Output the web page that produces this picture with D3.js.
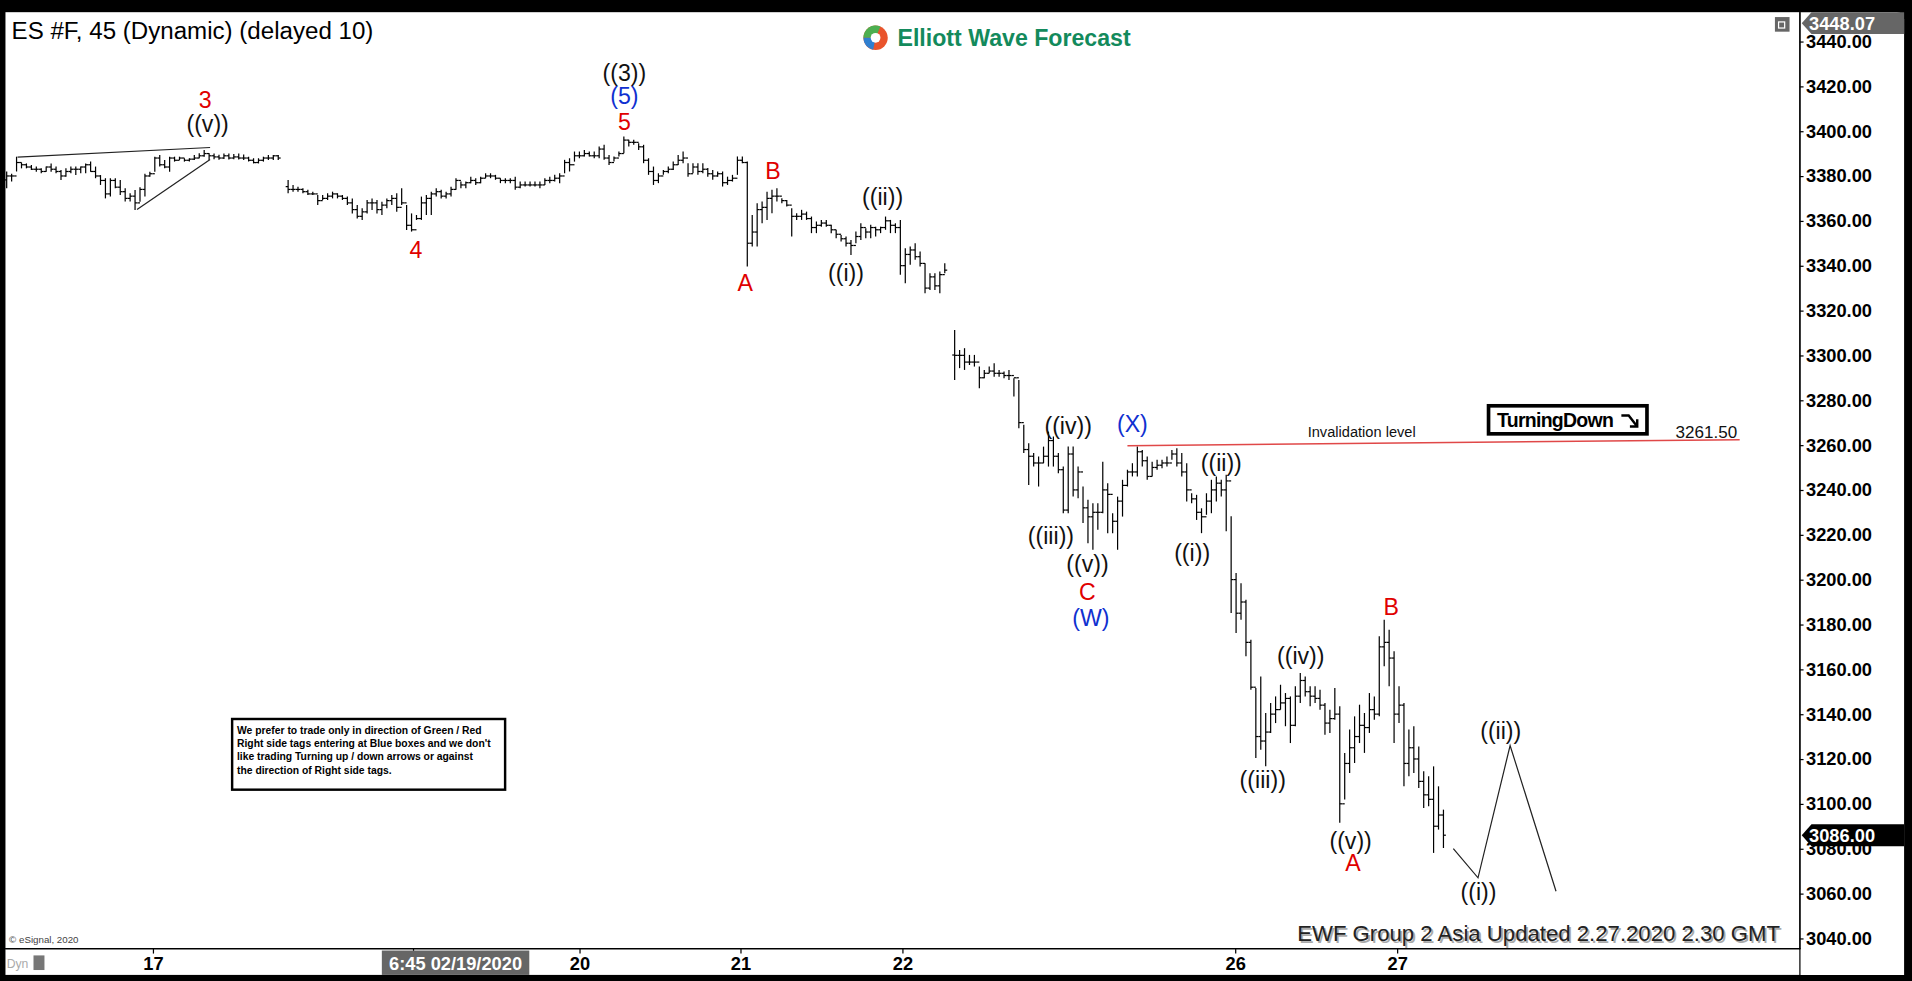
<!DOCTYPE html>
<html><head><meta charset="utf-8">
<script src="https://cdn.jsdelivr.net/npm/d3@7"></script>
<style>html,body{margin:0;padding:0;background:#000;overflow:hidden}text{font-family:"Liberation Sans",Arial,sans-serif}</style>
</head><body>
<svg id="c" width="1912" height="981" viewBox="0 0 1568 805"></svg>
<script>
const highs=[3382,3381,3388.6,3386,3385.6,3384.9,3384.2,3383.4,3384.2,3385.6,3384.2,3382.7,3383.4,3384.2,3384.2,3384.2,3385.6,3386.4,3384.2,3380.4,3379,3379,3379,3378.2,3374.5,3372.3,3373.7,3375,3381,3381.9,3388.6,3389.4,3387.1,3388.6,3388.6,3388.6,3387.9,3387.9,3389.4,3390.1,3391.6,3390.1,3390,3389.5,3390,3390,3389.8,3390,3389.6,3388.6,3387.9,3387.9,3388.6,3389.4,3389.4,3389.4,
null,
3378.2,3376,3375.2,3374.5,3373.8,3373,3371.5,3371.5,3372.3,3373,3372.3,3371.5,3370.8,3370,3367,3365.6,3369.3,3370,3369.3,3368.5,3370,3371.5,3372.3,3374.5,3367,3363.3,3362.6,3370.8,3371.5,3373,3374.5,3373.8,3373,3375.2,3379,3377.5,3377.5,3379.7,
3379,3379.7,3381.2,3381.2,3380.5,3379,3379,3379,3379.7,3377.5,3377.5,3377.5,3377.5,3377.5,3379,3379.7,3380.5,3381.2,3387.2,3387.9,3390.9,3390.9,3391.6,3390.9,3390.9,3393.1,3393.9,3389.4,3388.7,3390.9,3397.6,3396.1,3396.1,3394.6,3393.9,3387.9,3384.2,3381.2,3382.7,3384.2,3386.4,3389.4,3390.9,3385.7,3385.7,3385.7,3385.7,3383.5,3382.7,3382,3382,3379.7,3380.5,3388.7,3388.7,
3386.4,3362.6,3367.8,3368.6,3373,3373.8,3374.5,3370.1,3369.3,3365.6,3363.4,3364.9,3364.1,3361.9,3359.7,3360.4,3360.4,3358.2,3356,3353.7,3353,3351.5,3355.2,3358.9,3356.7,3358.2,3357.4,3357.4,3361.9,3360.4,3358.9,3360.4,3347.8,3348.5,3350,3346.3,3341.1,3336.6,3336.6,3337.4,3341.1,
null,
3311.3,3302.4,3303.2,3300.2,3300.2,3295,3293.5,3295,3296.5,3293.5,3292.8,3293.5,3289.8,3289,3269,3260.8,3256.4,3254.9,3259.3,3266,3263.8,3256.4,3250.4,3259.3,3259.3,3250.4,3241.5,3235.6,3234,3234,3252.6,3243,3229.6,3237,3244.5,3249,3251.9,3259.3,3257.8,3254.9,3252.6,3253.4,3253.4,3254.9,3257.8,3258.6,3256.4,3251.9,3238.5,3237.8,3231.8,3238.5,3244.5,3246,3244.5,3246.7,
3228.2,3202.9,3198.4,3191,3173.2,3151.6,3156.8,3140.5,3145,3147.9,3153.1,3149.4,3147.9,3152.4,3158.3,3156.8,3152.4,3152.4,3150.9,3145,3142,3151.6,3143.5,3122.7,3133.1,3139,3144.2,3140.5,3149.4,3147.9,3174.7,3182.1,3177.6,3168,3152.4,3145,3133.1,3134.6,3125.6,3114.5,3112.3,3116.7,3107.8,3097.4];
const lows=[3374.5,3377.5,3382,3383.4,3383.4,3382.7,3381.9,3381.2,3381.9,3381.9,3381.2,3378.2,3379.7,3381.2,3380.4,3381.2,3381.2,3381.9,3379,3376,3370,3370.8,3374.5,3371.5,3368.6,3368.6,3364.8,3368.5,3370.8,3379.7,3381.9,3384.2,3383.4,3381.9,3386.4,3387.1,3386.4,3386.4,3387.1,3387.9,3388.6,3387.1,3387.5,3387.2,3387.6,3387.4,3387.5,3387.4,3387.1,3386.4,3385.6,3385.6,3386.4,3387.1,3387.1,3387.1,
null,
3372.3,3373,3373,3372.3,3371.5,3371.5,3367,3369.3,3369.3,3370,3370,3369.3,3367,3363.3,3361,3360.4,3363.3,3364.8,3363.3,3362.6,3365.6,3367,3364,3367,3355.9,3355.2,3360.4,3360.4,3362.6,3362.6,3370.8,3370,3370,3370.8,3373.8,3374.5,3374.5,3376.7,
3376,3376.8,3379,3379,3378.3,3376.8,3376.8,3376.8,3373.8,3374.5,3375.3,3375.3,3375.3,3374.5,3376,3376.8,3377.5,3376.8,3381.2,3382,3386.4,3387.9,3388.7,3388.7,3387.9,3387.9,3387.2,3384.9,3386.4,3388.7,3390.1,3393.1,3393.9,3391.6,3385.7,3380.5,3376,3376.8,3380.5,3381.2,3382.7,3384.9,3385.7,3379.7,3381.2,3380.5,3381.2,3379.7,3378.3,3379.7,3375.3,3376,3377.5,3380.5,3385.7,
3339.6,3348.5,3348.5,3358.9,3360.4,3363.4,3368.6,3367.8,3366.4,3353,3360.4,3360.4,3360.4,3354.5,3354.5,3357.4,3357.4,3354.5,3352.2,3350.8,3348.5,3344.8,3350,3351.5,3352.2,3352.2,3353,3354.5,3356,3354.5,3354.5,3335.9,3332.2,3340.4,3342.6,3339.6,3327.7,3329.2,3329.2,3327.7,3336.6,
null,
3289,3294.3,3293.5,3295.7,3295,3285.3,3289.8,3292,3290.5,3290.5,3289.8,3289,3281.6,3267.5,3256.4,3242.2,3250.4,3241.5,3251.9,3250.4,3250.4,3247.4,3229.6,3229.6,3237,3236.3,3225.2,3216.2,3213.3,3222.2,3229.6,3220.7,3220.7,3213.3,3228.1,3241.5,3246,3246,3250.4,3244.5,3246,3249,3249.7,3250.4,3253.4,3250.4,3246,3234.8,3234,3226.6,3220.7,3228.9,3229.6,3234.8,3237,3221.5,
3185.1,3176.2,3182.1,3165.8,3150.9,3120.4,3124.1,3116.7,3131.6,3136,3142,3134.6,3127.1,3134.6,3145,3147.9,3143.5,3145,3142,3130.8,3131.6,3137.5,3091.5,3101.9,3113.7,3118.2,3127.1,3122.7,3131.6,3137.5,3139,3161.3,3152.4,3127.1,3136,3107.8,3112.3,3113.7,3107.1,3098.1,3098.9,3078.1,3088.5,3080.3];
const closes=[3380,3380,3386,3385,3384,3383,3383,3382,3384,3383,3382,3380,3382,3383,3383,3384,3385,3382,3380,3378,3372,3378,3375,3373,3370,3371,3368,3374,3380,3381,3388,3385,3384,3388,3387,3388,3387,3387.5,3388,3389,3390,3389,3388.5,3388,3389,3388,3388.5,3388,3388,3387,3386,3387,3388,3388,3389,3388,
null,
3374,3374,3374,3373,3372,3372,3369,3370,3371,3372,3371,3370,3368,3365,3362,3364,3368,3368,3365,3367,3369,3370,3366,3368,3358,3356,3361,3368,3370,3372,3373,3371,3372,3374,3378,3376,3377,3378,
3377,3379,3380,3380,3379,3378,3378,3378,3375,3376,3376,3376,3376,3376,3378,3378,3379,3380,3386,3385,3389,3389,3390,3389,3389,3392,3388,3386,3388,3390,3396,3395,3395,3393,3387,3382,3378,3380,3382,3383,3385,3387,3388,3381,3384,3382,3383,3381,3380,3381,3377,3378,3379,3387,3386,
3350,3355,3365,3366,3370,3371,3371,3369,3367,3362,3362,3363,3361,3357,3358,3359,3358,3356,3354,3352,3350,3349,3353,3357,3355,3357,3356,3357,3360,3358,3357,3340,3345,3347,3344,3341,3330,3335,3331,3336,3338,
null,
3300,3300,3297,3297,3297,3290,3292,3293,3292,3292,3291,3291,3290,3270,3258,3255,3252,3252,3255,3262,3255,3249,3231,3256,3240,3248,3232,3228,3230,3230,3240,3238,3226,3235,3242,3248,3248,3257,3253,3246,3250,3251,3252,3252,3256,3252,3248,3240,3236,3230,3228,3235,3240,3243,3240,3244,
3200,3185,3190,3172,3152,3130,3128,3132,3140,3142,3145,3147,3135,3148,3155,3150,3148,3147,3144,3136,3138,3140,3100,3118,3125,3130,3135,3134,3142,3140,3170,3172,3165,3140,3144,3118,3125,3120,3110,3104,3102,3090,3095,3086];
const priceTicks=d3.range(3040,3441,20);
const dayTickIdx=[29.6,116,148.6,181.4,248.8,281.6];
const dayTickLabels=["17","20","21","22","26","27"];
const crossIdx=82.4, crossLabel="6:45 02/19/2020";
const projIdx=[293,298,304.5,313.8], projPrice=[3080,3067,3126,3061];
const invalidation=3261.5;
const wedgeUpper=[[2.2,3388.4],[41.2,3392.7]], wedgeLower=[[26.4,3365],[41.2,3387.3]];
const labels=[
 ["3",40.2,3413.9,"r"],["((v))",40.7,3403,"k"],["((3))",125.1,3425.9,"k"],["(5)",125.1,3415.5,"b"],["5",125.1,3404.1,"r"],
 ["4",82.9,3347,"r"],["A",149.6,3332.4,"r"],["B",155.2,3382.4,"r"],["((i))",170,3336.7,"k"],["((ii))",177.4,3370.4,"k"],
 ["((iv))",215,3268.3,"k"],["(X)",228,3269.3,"b"],["((iii))",211.5,3219.3,"k"],["((v))",218.9,3206.8,"k"],["C",218.9,3194.3,"r"],["(W)",219.6,3182.9,"b"],
 ["((i))",240.1,3211.7,"k"],["((ii))",246,3251.9,"k"],["((iv))",262.1,3166.1,"k"],["((iii))",254.4,3110.7,"k"],["((v))",272.2,3083.5,"k"],["A",272.7,3073.7,"r"],
 ["B",280.4,3187.8,"r"],["((ii))",302.6,3132.4,"k"],["((i))",298.1,3060.7,"k"]];
const noteLines=["We prefer to trade only in direction of Green / Red","Right side tags entering at Blue boxes and we don't","like trading Turning up / down arrows or against","the direction of Right side tags."];

const svg=d3.select("#c");
const col={r:"#e00000",k:"#111",b:"#1030d0"};
const x=d3.scaleLinear().domain([0,highs.length-1]).range([5,1184]);
const y=d3.scaleLinear().domain([3040,3440]).range([770,34]);
svg.append("rect").attr("x",0).attr("y",0).attr("width",1568).attr("height",805).attr("fill","#000");
svg.append("rect").attr("x",4).attr("y",10).attr("width",1472).attr("height",768).attr("fill","#fff");
svg.append("path").attr("d","M1477,10 H1556 Q1562,10 1562,16 V800 H1477 Z").attr("fill","#fff");
svg.append("rect").attr("x",4).attr("y",779).attr("width",1472).attr("height",21).attr("fill","#fff");
svg.append("line").attr("x1",1476.5).attr("x2",1476.5).attr("y1",10).attr("y2",779).attr("stroke","#000");
svg.append("line").attr("x1",4).attr("x2",1477).attr("y1",778.5).attr("y2",778.5).attr("stroke","#000");
const ya=svg.append("g").attr("transform","translate(1476.5,0)").call(d3.axisRight(y).tickValues(priceTicks).tickFormat(d3.format(".2f")).tickSize(3));
ya.select(".domain").remove();
ya.selectAll("text").attr("font-size",15).attr("font-weight","bold").attr("fill","#000").attr("x",5);
const xa=svg.append("g").attr("transform","translate(0,778.5)").call(d3.axisBottom(x).tickValues(dayTickIdx).tickFormat((d,i)=>dayTickLabels[i]).tickSize(4));
xa.select(".domain").remove();
xa.selectAll("text").attr("font-size",15).attr("font-weight","bold").attr("fill","#000").attr("y",7);
const cx=x(crossIdx);
svg.append("line").attr("x1",cx).attr("x2",cx).attr("y1",778).attr("y2",782).attr("stroke","#000");
svg.append("rect").attr("x",cx-26).attr("y",780).attr("width",121).attr("height",20).attr("fill","#666");
svg.append("text").attr("x",cx+34.5).attr("y",796).attr("text-anchor","middle").attr("font-size",15).attr("font-weight","bold").attr("fill","#fff").text(crossLabel);
const g=svg.append("g").attr("stroke","#000").attr("stroke-width",1).attr("fill","none");
highs.forEach((h,i)=>{
 if(h==null)return;
 const xi=x(i);
 g.append("line").attr("x1",xi).attr("x2",xi).attr("y1",y(h)).attr("y2",y(lows[i]));
 const op=(i>0&&closes[i-1]!=null)?closes[i-1]:(h+lows[i])/2;
 g.append("line").attr("x1",xi-2).attr("x2",xi).attr("y1",y(op)).attr("y2",y(op));
 g.append("line").attr("x1",xi).attr("x2",xi+2).attr("y1",y(closes[i])).attr("y2",y(closes[i]));
});
const ln=d3.line().x(d=>x(d[0])).y(d=>y(d[1]));
svg.append("path").attr("d",ln(wedgeUpper)).attr("stroke","#222").attr("fill","none");
svg.append("path").attr("d",ln(wedgeLower)).attr("stroke","#222").attr("fill","none");
svg.append("path").attr("d",ln(projIdx.map((d,i)=>[d,projPrice[i]]))).attr("stroke","#222").attr("fill","none");
svg.append("line").attr("x1",x(227)).attr("x2",x(351)).attr("y1",y(invalidation-1.8)).attr("y2",y(invalidation+0.9)).attr("stroke","#e04848").attr("stroke-width",1.2);
svg.append("text").attr("x",x(263.5)).attr("y",y(invalidation)-4).attr("font-size",12).attr("fill","#111").text("Invalidation level");
svg.append("text").attr("x",x(338)).attr("y",y(invalidation)-3).attr("font-size",14).attr("font-family","DejaVu Sans").attr("fill","#111").text("3261.50");
svg.append("rect").attr("x",1221).attr("y",333).attr("width",130).attr("height",23).attr("fill","#fff").attr("stroke","#000").attr("stroke-width",3);
svg.append("text").attr("x",1228).attr("y",350).attr("font-size",16).attr("font-weight","bold").attr("letter-spacing",-0.6).attr("fill","#000").text("TurningDown");
svg.append("path").attr("d","M1330,341 L1336,341 L1343,350 M1343,344 L1343,350 L1337,350").attr("stroke","#000").attr("stroke-width",2).attr("fill","none");
svg.append("g").selectAll("text").data(labels).join("text")
 .attr("x",d=>x(d[1])).attr("y",d=>y(d[2])).attr("text-anchor","middle").attr("dominant-baseline","central")
 .attr("font-size",19).attr("fill",d=>col[d[3]]).text(d=>d[0]);
function tag(txt,fill,yy){
 svg.append("path").attr("d",`M1478,${yy+9} L1486,${yy} H1562 V${yy+18} H1486 Z`).attr("fill",fill);
 svg.append("text").attr("x",1484).attr("y",yy+15).attr("font-size",15).attr("font-weight","bold").attr("fill","#fff").text(txt);
}
tag("3448.07","#666",10);
tag("3086.00","#000",y(3086)-9);
svg.append("text").attr("x",9).attr("y",32).attr("font-size",19.8).attr("fill","#000").text("ES #F, 45 (Dynamic) (delayed 10)");
const lg=svg.append("g");
lg.append("circle").attr("cx",718).attr("cy",31).attr("r",10).attr("fill","#e9542c");
lg.append("path").attr("d","M708,31 A10,10 0 0 1 722,21.8 L718,31 Z").attr("fill","#4caf50");
lg.append("path").attr("d","M708,31 A10,10 0 0 0 716,40.8 L718,31 Z").attr("fill","#2f7fd0");
lg.append("circle").attr("cx",718).attr("cy",31).attr("r",4).attr("fill","#fff");
lg.append("text").attr("x",736).attr("y",38).attr("font-size",19).attr("font-weight","bold").attr("fill","#138a5c").text("Elliott Wave Forecast");
svg.append("rect").attr("x",1456).attr("y",14).attr("width",12).attr("height",12).attr("fill","#666");
svg.append("rect").attr("x",1459).attr("y",18).attr("width",5).attr("height",5).attr("fill","none").attr("stroke","#fff");
svg.append("rect").attr("x",190).attr("y",590).attr("width",224).attr("height",58).attr("fill","#fff").attr("stroke","#000").attr("stroke-width",2);
svg.append("g").selectAll("text").data(noteLines).join("text").attr("x",194).attr("y",(d,i)=>602+i*11).attr("font-size",8.5).attr("font-weight","bold").attr("fill","#000").text(d=>d);
svg.append("text").attr("x",7).attr("y",774).attr("font-size",8).attr("fill","#444").text("© eSignal, 2020");
svg.append("text").attr("x",5).attr("y",794).attr("font-size",10).attr("fill","#aaa").text("Dyn");
svg.append("rect").attr("x",27).attr("y",784).attr("width",9).attr("height",12).attr("fill","#777");
svg.append("text").attr("x",1064).attr("y",772).attr("font-size",18.2).attr("fill","#aaa").text("EWF Group 2 Asia Updated 2.27.2020 2.30 GMT").attr("transform","translate(1.5,1.5)");
svg.append("text").attr("x",1064).attr("y",772).attr("font-size",18.2).attr("fill","#222").text("EWF Group 2 Asia Updated 2.27.2020 2.30 GMT");
</script>
</body></html>
